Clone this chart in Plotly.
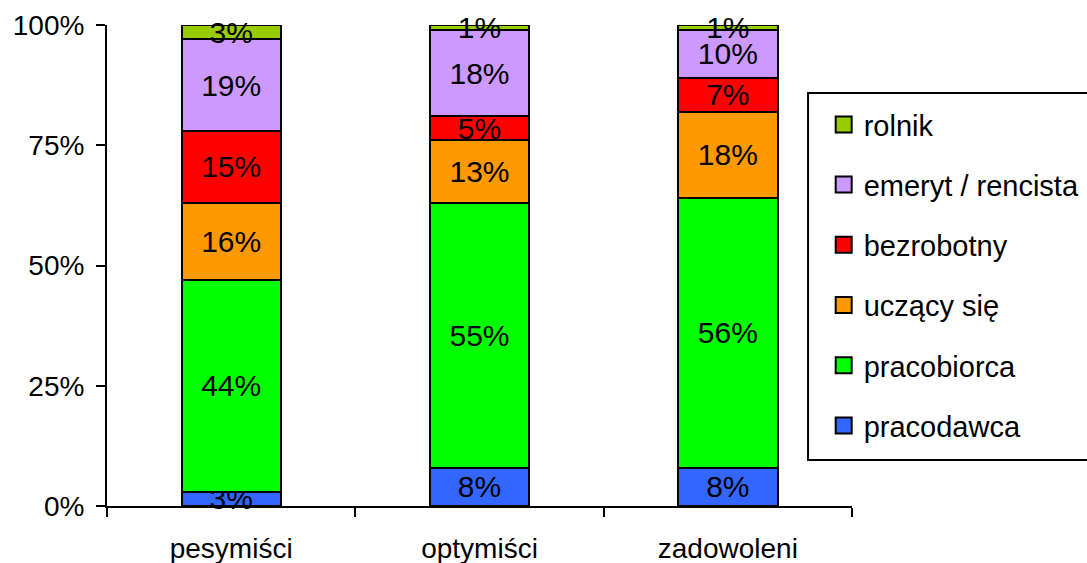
import plotly.graph_objects as go

# Respondent groups and employment-status shares (percent)
groups = ["pesymiści", "optymiści", "zadowoleni"]
series_names = ["pracodawca", "pracobiorca", "uczący się", "bezrobotny",
                "emeryt / rencista", "rolnik"]
pracodawca = [3, 8, 8]
pracobiorca = [44, 55, 56]
uczacy_sie = [16, 13, 18]
bezrobotny = [15, 5, 7]
emeryt = [19, 18, 10]
rolnik = [3, 1, 1]
series_values = [pracodawca, pracobiorca, uczacy_sie, bezrobotny, emeryt, rolnik]
y_ticks = [0, 25, 50, 75, 100]
y_tick_labels = [f"{v}%" for v in y_ticks]

colors = ["#3366FF", "#00FF00", "#FF9900", "#FF0000", "#CC99FF", "#99CC00"]
FONT = "Liberation Sans, Arial, sans-serif"

fig = go.Figure()
for name, vals, col in zip(series_names, series_values, colors):
    fig.add_trace(go.Bar(
        x=groups, y=vals, name=name,
        marker=dict(color=col, line=dict(color="black", width=2)),
        text=[f"{v}%" for v in vals],
        textposition="inside", insidetextanchor="middle",
        textangle=0, constraintext="none",
        textfont=dict(family=FONT, size=30, color="black"),
        cliponaxis=False,
        width=0.4, showlegend=False,
    ))

# Legend entries with larger square swatches, top series listed first
for i in reversed(range(len(series_names))):
    fig.add_trace(go.Scatter(
        x=[None], y=[None], mode="markers", name=series_names[i],
        legendgroup=f"g{i}",
        marker=dict(symbol="square", size=18, color=colors[i],
                    line=dict(color="black", width=2)),
    ))

# Frame around the legend
fig.add_shape(type="rect", xref="paper", yref="paper",
              x0=0.941, x1=1.33, y0=0.0956, y1=0.8586,
              line=dict(color="black", width=2), fillcolor="rgba(0,0,0,0)",
              layer="above")

fig.update_layout(
    width=1087, height=563,
    barmode="stack",
    paper_bgcolor="white", plot_bgcolor="white",
    margin=dict(l=107, r=235, t=25, b=57, autoexpand=False),
    font=dict(family=FONT, size=28, color="black"),
    uniformtext=dict(mode="show", minsize=30),
    legend=dict(
        x=0.962, y=0.846, xanchor="left", yanchor="top",
        borderwidth=0, bgcolor="rgba(0,0,0,0)",
        font=dict(family=FONT, size=29, color="black"),
        traceorder="grouped", tracegroupgap=19.5,
    ),
)
fig.update_xaxes(
    type="category", range=[-0.5, 2.5], automargin=False,
    showline=True, linecolor="black", linewidth=2,
    ticks="outside", tickson="boundaries", ticklen=9,
    tickwidth=2, tickcolor="black",
    showgrid=False, zeroline=False, ticklabelstandoff=16,
    tickfont=dict(family=FONT, size=28, color="black"),
)
fig.update_yaxes(
    range=[0, 100], tickvals=y_ticks, ticktext=y_tick_labels,
    automargin=False,
    showline=True, linecolor="black", linewidth=2,
    ticks="outside", ticklen=9, tickwidth=2, tickcolor="black",
    showgrid=False, zeroline=False, ticklabelstandoff=6,
    tickfont=dict(family=FONT, size=28, color="black"),
)

fig.write_html("out.html")
